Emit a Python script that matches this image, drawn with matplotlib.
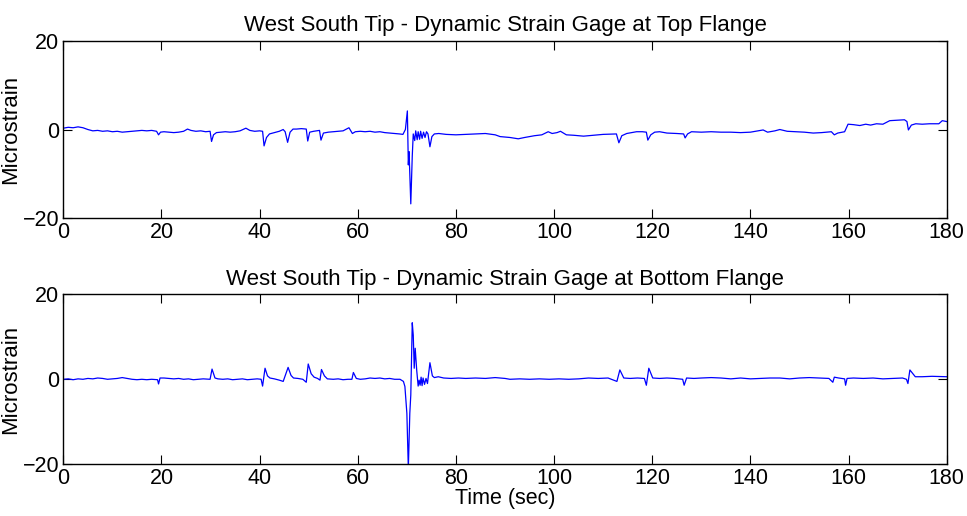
import matplotlib
matplotlib.use("Agg")
import matplotlib.pyplot as plt

plt.rcParams['font.family'] = ['Liberation Sans', 'DejaVu Sans']

title_top = "West South Tip - Dynamic Strain Gage at Top Flange"
title_bot = "West South Tip - Dynamic Strain Gage at Bottom Flange"
xlabel = "Time (sec)"
ylabel = "Microstrain"
xticks = [0, 20, 40, 60, 80, 100, 120, 140, 160, 180]
yticks = [-20, 0, 20]

top_t = [0, 1, 2, 3, 4, 5, 6, 7, 8, 9, 10, 11, 12, 13, 14, 15, 16, 17, 18, 19,
         19.4, 19.8, 20.5, 21.5, 22.5, 23.5, 24.5, 25.3, 26, 27, 28, 29, 29.9,
         30.2, 30.6, 31.2, 32, 33, 34, 35, 36, 37.2, 38, 39, 40, 40.6, 40.9,
         41.4, 42, 43, 44, 44.8, 45.2, 45.7, 46.2, 46.8, 47.5, 48.5, 49.5, 49.8,
         50.2, 51, 52.2, 52.5, 53, 54, 55, 56, 57, 58.2, 58.9, 59.5, 60.5, 61.5,
         62.5, 63.5, 64.5, 65.5, 66.5, 67.5, 68.5, 69.2, 69.7, 70.1, 70.3, 70.45,
         70.6, 70.8, 71.1, 71.3, 71.6, 71.8, 72.1, 72.3, 72.6, 72.8, 73.1, 73.4,
         73.7, 74.0, 74.3, 74.7, 75.1, 75.6, 76.5, 78, 80, 82, 84, 86, 88, 89,
         91, 92.7, 94, 96, 97.5, 98.8, 99.6, 100.6, 101.3, 102.5, 104, 106, 108,
         110, 112.7, 113.2, 113.8, 114.8, 116.8, 118, 118.8, 119.1, 119.7, 120.5,
         121.5, 123, 125, 126.4, 126.7, 127.2, 128, 130, 132, 134, 136, 138, 140,
         142.6, 143.5, 145, 146, 147.5, 149.5, 151, 152.8, 154.5, 156.5, 157.1,
         157.8, 159.2, 159.9, 161, 162.3, 163.5, 164.5, 165.7, 167, 168.4, 170,
         171.4, 171.9, 172.2, 172.8, 173.7, 175, 176.5, 178.4, 179.1, 180]
top_v = [0.3, 0.5, 0.4, 0.6, 0.4, 0.0, -0.3, -0.2, -0.4, -0.3, -0.5, -0.4, -0.6,
         -0.5, -0.4, -0.3, -0.2, -0.3, -0.2, -0.4,
         -1.2, -0.6, -0.5, -0.6, -0.7, -0.6, -0.4, 0.1, -0.2, -0.4, -0.3, -0.5, -0.4,
         -2.7, -1.2, -0.7, -0.6, -0.5, -0.6, -0.5, -0.3, 0.3, -0.2, -0.4, -0.3, -0.4, -3.7,
         -1.8, -1.0, -0.7, -0.4, 0.0, -0.5, -2.9, -0.6, 0.1, 0.1, 0.2, 0.1, -2.6,
         -0.6, -0.4, -0.2, -2.4, -0.8, -0.6, -0.5, -0.4, -0.3, 0.4, -0.9, -0.5, -0.4, -0.5,
         -0.4, -0.6, -0.5, -0.7, -0.8, -0.9, -1.0, -1.1, 0.0, 4.2, -8.0, -5.0,
         -10.0, -16.8, -6.0, -1.0, -2.5, -0.3, -2.3, -0.5, -2.2, -0.4, -2.0, -0.6,
         -1.8, -0.5, -1.0, -3.9, -1.6, -1.0, -0.9, -1.1, -1.2, -1.1, -1.0, -0.9, -1.2, -1.6,
         -1.8, -2.1, -1.8, -1.4, -1.2, -0.5, -0.9, -0.7, -0.4, -1.2, -1.3, -1.5, -1.3,
         -1.1, -1.0, -3.0, -1.4, -0.9, -0.5, -0.5, -0.6, -2.4, -1.2, -0.6,
         -0.5, -0.8, -0.9, -1.0, -1.9, -1.0, -0.5, -0.6, -0.5, -0.6, -0.6, -0.7, -0.6,
         -0.1, -0.6, -0.3, 0.0, -0.4, -0.5, -0.6, -0.8, -0.7, -0.5, -1.2,
         -0.8, -0.5, 1.2, 1.1, 0.9, 1.2, 1.0, 1.3, 1.2, 2.0, 2.1,
         2.2, 1.8, -0.1, 1.0, 1.3, 1.2, 1.3, 1.3, 2.0, 1.8]

bot_t = [0, 1, 2, 3, 4, 5, 6, 7, 8, 9, 10, 11, 12, 13, 14, 15, 16, 17, 18, 19.2,
         19.4, 19.7, 20.5, 21.5, 22.5, 23.5, 24.5, 25.5, 26.5, 27.5, 28.5, 29.9,
         30.3, 30.9, 31.5, 32.5, 33.5, 34.5, 35.5, 36.5, 37.5, 38.5, 39.5, 40.3,
         40.6, 41.1, 41.6, 42.1, 43, 44, 44.8, 45.8, 46.4, 46.9, 47.8, 48.8, 49.5,
         49.9, 50.5, 51.1, 51.8, 52.3, 52.6, 53.2, 53.8, 55, 56, 57, 58, 58.8,
         59.1, 59.7, 60.5, 61.5, 62.5, 63.5, 64.5, 65.5, 66.5, 67.5, 68.6, 69.3,
         69.6, 70.0, 70.3, 70.6, 70.8, 71.1, 71.3, 71.5, 71.7, 72.0, 72.3, 72.5,
         72.7, 72.9, 73.1, 73.3, 73.6, 73.9, 74.2, 74.7, 75.2, 75.6, 76.4, 77.5,
         79, 80.5, 82, 84, 86, 88, 90, 91, 93, 95, 97, 99, 101, 103, 105, 107, 109,
         111, 112.8, 113.4, 114.2, 115.5, 117, 118.4, 118.8, 119.3, 120.1, 121.5,
         123, 124.5, 126.2, 126.5, 127.0, 128.5, 130, 132, 134, 136, 138, 140, 142,
         144, 146, 148, 150, 152, 154, 156, 156.8, 157.1, 158, 159.2, 159.4, 159.7,
         161, 163, 165, 167, 169, 171, 171.8, 172.1, 172.5, 173.6, 175, 177, 180]
bot_v = [0.0, 0.1, -0.1, 0.1, 0.0, 0.2, 0.1, 0.3, 0.2, 0.0, 0.1, 0.2, 0.4, 0.2, 0.0,
         -0.1, 0.0, -0.1, 0.0, -0.1,
         -1.1, 0.3, 0.3, 0.2, 0.1, 0.2, 0.0, 0.1, -0.1, 0.0, 0.1, 0.0,
         2.4, 0.3, 0.1, 0.0, 0.1, -0.1, 0.0, 0.1, -0.1, 0.0, 0.1, 0.0,
         -1.6, 2.6, 0.8, 0.3, 0.1, -0.2, -0.5, 2.8, 0.9, 0.3, 0.2, 0.0, -0.7,
         3.6, 1.3, 0.5, 0.2, -0.2, 2.3, 0.8, 0.1, 0.0, 0.1, -0.1, 0.0, 0.0,
         1.6, 0.2, 0.0, 0.1, 0.3, 0.2, 0.3, 0.1, 0.2, 0.0, 0.0, -0.5,
         -1.7, -8.0, -21.0, -8.0, -3.7, 13.3, 10.4, 2.6, 7.3, 2.2, -1.6, -0.2,
         -1.4, 0.5, -1.5, 0.3, -1.2, 0.2, -1.0, 3.9, 0.8, 0.4, 0.6, 0.3,
         0.2, 0.3, 0.2, 0.3, 0.2, 0.4, 0.2, 0.0, 0.1, 0.0, 0.1, 0.0, 0.1, 0.0, 0.1, 0.3, 0.2,
         0.3, -0.5, 2.2, 0.3, 0.2, 0.3, 0.2, -1.4, 2.6, 0.3, 0.2,
         0.3, 0.2, 0.0, -1.4, 0.3, 0.2, 0.3, 0.4, 0.3, 0.1, 0.3, 0.1, 0.2,
         0.3, 0.3, 0.1, 0.3, 0.4, 0.3, 0.2, -0.7, 0.5, 0.3, 0.1, -1.4, 0.2,
         0.3, 0.2, 0.3, 0.1, 0.2, 0.3, 0.0, -1.0, 2.2, 0.6, 0.6, 0.7, 0.6]

fig = plt.figure(figsize=(9.67, 5.16), dpi=100)
ax1 = fig.add_axes([0.0655, 0.5775, 0.9135, 0.343])
ax2 = fig.add_axes([0.0655, 0.1002, 0.9135, 0.3295])

for ax, t, v, title in [(ax1, top_t, top_v, title_top), (ax2, bot_t, bot_v, title_bot)]:
    ax.plot(t, v, color='#0000ff', linewidth=0.9)
    ax.set_xlim(0, 180)
    ax.set_ylim(-20, 20)
    ax.set_xticks(xticks)
    ax.set_yticks(yticks)
    ax.tick_params(direction='in', length=6.5, width=0.8, top=True, right=True,
                   labelsize=15.5, pad=3)
    for s in ax.spines.values():
        s.set_linewidth(1.0)
    ax.set_title(title, fontsize=16, pad=7)
    ax.set_ylabel(ylabel, fontsize=16, labelpad=1)

ax2.set_xlabel(xlabel, fontsize=15.5, labelpad=-1)

fig.savefig("out.png", dpi=100)
